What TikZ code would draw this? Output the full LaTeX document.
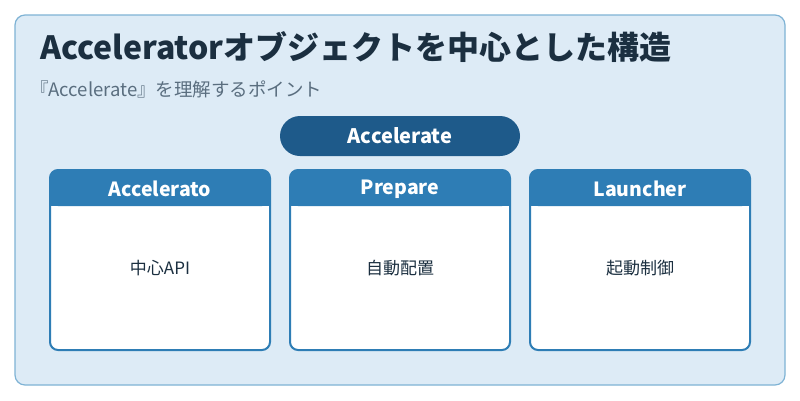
\documentclass[tikz,border=0pt]{standalone}
\usepackage{fontspec}
\setmainfont{Noto Sans CJK JP}
\begin{document}
\begin{tikzpicture}[x=1pt,y=-1pt]
\definecolor{bg}{HTML}{DDEBF6}
\definecolor{bord}{HTML}{7FB3D5}
\definecolor{dark}{HTML}{1E5A8A}
\definecolor{hdrblue}{HTML}{2E7DB5}
\definecolor{titlec}{HTML}{1B2F40}
\definecolor{subc}{HTML}{5A6E7F}
\tikzset{hdrtext/.style={text=white,font=\fontsize{19.5}{22}\selectfont\bfseries},
  bodytext/.style={text=titlec,font=\fontsize{17}{20}\selectfont}}
\useasboundingbox (0,0) rectangle (800,400);
\fill[white] (0,0) rectangle (800,400);
\draw[fill=bg,draw=bord,line width=1.2pt,rounded corners=10pt] (15,15) rectangle (785,385);
\node[anchor=west,text=titlec,font=\fontsize{32}{36}\selectfont\bfseries,inner sep=0pt] (title) at (40,47) {Acceleratorオブジェクトを中心とした構造};
\node[anchor=west,text=subc,font=\fontsize{18.5}{21}\selectfont,inner sep=0pt] (sub) at (30,89) {『Accelerate』を理解するポイント};
\node[fill=dark,rounded corners=20pt,minimum width=240pt,minimum height=40pt,text=white,font=\fontsize{20}{23}\selectfont\bfseries] (pill) at (400,136) {Accelerate};
\foreach \n/\x/\h/\b in {a/50/Accelerato/中心API,b/290/Prepare/自動配置,c/530/Launcher/起動制御}{
  \draw[fill=white,draw=hdrblue,line width=2pt,rounded corners=8pt] (\x,170) rectangle ++(220,180);
  \fill[hdrblue,rounded corners=8pt] (\x,170) rectangle ++(220,36);
  \fill[hdrblue] (\x,190) rectangle ++(220,16);
  \node[hdrtext] (h\n) at (\x+110,189) {\h};
  \node[bodytext] (t\n) at (\x+110,268) {\b};
}
\end{tikzpicture}
\end{document}
